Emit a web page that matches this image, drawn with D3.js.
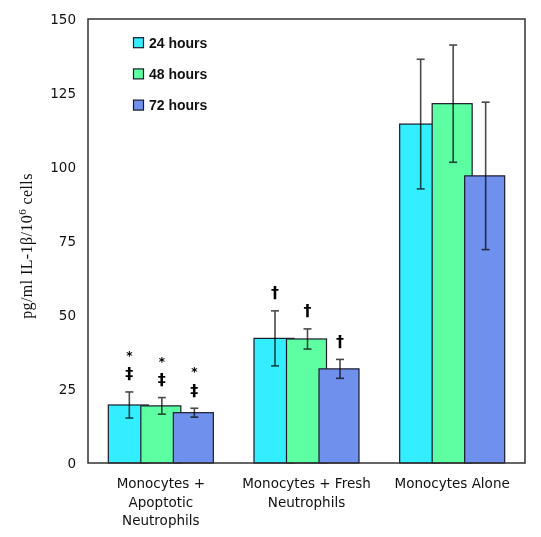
<!DOCTYPE html>
<html>
<head>
<meta charset="utf-8">
<script src="https://cdn.jsdelivr.net/npm/d3@7"></script>
<style>
  html, body { margin: 0; padding: 0; background: #fff; }
  svg { display: block; }
</style>
</head>
<body>
<svg id="chart" width="541" height="537"></svg>
<script>
// ---- data ----
const categories = [
  ["Monocytes +", "Apoptotic", "Neutrophils"],
  ["Monocytes + Fresh", "Neutrophils"],
  ["Monocytes Alone"]
];
const seriesNames = ["24 hours", "48 hours", "72 hours"];
const seriesColors = ["#33EEFF", "#5EFFA3", "#7090EE"];
const values24 = [19.6, 42.1, 114.5];
const values48 = [19.3, 41.9, 121.4];
const values72 = [17.0, 31.8, 97.0];
const err24 = [4.4, 9.3, 21.9];
const err48 = [2.8, 3.4, 19.8];
const err72 = [1.5, 3.2, 24.9];
const marks24 = [["*", "‡"], ["†"], []];
const marks48 = [["*", "‡"], ["†"], []];
const marks72 = [["*", "‡"], ["†"], []];
const yTicks = [0, 25, 50, 75, 100, 125, 150];

const seriesValues = [values24, values48, values72];
const seriesErr = [err24, err48, err72];
const seriesMarks = [marks24, marks48, marks72];

// ---- layout ----
const svg = d3.select("#chart");
const pLeft = 88, pRight = 525, pTop = 19, pBottom = 463;

const x0 = d3.scaleBand().domain(d3.range(categories.length)).range([pLeft, pRight]).paddingInner(0).paddingOuter(0);
const barW = 40;
const x1 = d3.scalePoint().domain(seriesNames).range([0, 65]);
const groupOffset = (x0.bandwidth() - (65 + barW)) / 2;
const y = d3.scaleLinear().domain([0, 150]).range([pBottom, pTop]);

const rows = [];
seriesNames.forEach((s, si) => {
  categories.forEach((c, ci) => {
    rows.push({ s, si, ci, v: seriesValues[si][ci], e: seriesErr[si][ci], m: seriesMarks[si][ci] });
  });
});

const bx = d => x0(d.ci) + groupOffset + x1(d.s);

const order = [];
categories.forEach((c, ci) => seriesNames.forEach((s, si) => order.push(rows.find(r => r.ci === ci && r.si === si))));

const g = svg.append("g");
order.forEach(d => {
  g.append("rect")
    .attr("x", bx(d)).attr("y", y(d.v))
    .attr("width", barW).attr("height", y(0) - y(d.v))
    .attr("fill", seriesColors[d.si])
    .attr("stroke", "#1a1a2a").attr("stroke-width", 1.2);
});

// error bars
const eg = svg.append("g").style("mix-blend-mode", "multiply");
rows.forEach(d => {
  const cx = bx(d) + barW / 2 + 1;
  const col = "#4a4a4a";
  eg.append("line").attr("x1", cx).attr("x2", cx).attr("y1", y(d.v + d.e)).attr("y2", y(d.v - d.e))
    .attr("stroke", col).attr("stroke-width", 1.6);
  [d.v + d.e, d.v - d.e].forEach(t => {
    eg.append("line").attr("x1", cx - 4).attr("x2", cx + 4).attr("y1", y(t)).attr("y2", y(t))
      .attr("stroke", col).attr("stroke-width", 1.6);
  });
});

// significance marks (stacked upward from the error bar top)
rows.forEach(d => {
  const cx = bx(d) + barW / 2 + 1;
  const base = y(d.v + d.e);
  const ms = d.m.slice().reverse();
  ms.forEach((m, i) => {
    const isStar = m === "*";
    svg.append("text")
      .attr("x", cx)
      .attr("y", isStar ? base - 36 : base - 18)
      .attr("text-anchor", "middle")
      .attr("dominant-baseline", "central")
      .attr("font-family", "DejaVu Sans")
      .attr("font-weight", "bold")
      .attr("font-size", isStar ? 12 : 16)
      .attr("fill", "#000")
      .text(m);
  });
});

// frame
svg.append("rect").attr("x", pLeft).attr("y", pTop).attr("width", pRight - pLeft).attr("height", pBottom - pTop)
  .attr("fill", "none").attr("stroke", "#333").attr("stroke-width", 1.5);

// y axis labels
const yAxis = d3.axisLeft(y).tickValues(yTicks).tickSize(0).tickPadding(12);
const ya = svg.append("g").attr("transform", `translate(${pLeft},0)`).call(yAxis);
ya.select(".domain").remove();
ya.selectAll("text").attr("font-family", "DejaVu Sans").attr("font-size", 13.5).attr("fill", "#111");

// x category labels
categories.forEach((lines, ci) => {
  const cx = x0(ci) + x0.bandwidth() / 2;
  const t = svg.append("text")
    .attr("x", cx)
    .attr("y", 488)
    .attr("text-anchor", "middle")
    .attr("font-family", "DejaVu Sans")
    .attr("font-size", 13.5)
    .attr("fill", "#111");
  lines.forEach((ln, i) => {
    t.append("tspan").attr("x", cx).attr("dy", i === 0 ? 0 : 18.5).text(ln);
  });
});

// y axis title
const yt = svg.append("text")
  .attr("transform", `translate(32,246) rotate(-90)`)
  .attr("text-anchor", "middle")
  .attr("font-family", "Liberation Serif")
  .attr("font-size", 16)
  .attr("letter-spacing", 0.4)
  .attr("fill", "#111");
yt.append("tspan").text("pg/ml IL-1β/10");
yt.append("tspan").attr("baseline-shift", "super").attr("font-size", 11).text("6");
yt.append("tspan").text(" cells");

// legend
const lg = svg.append("g");
seriesNames.forEach((s, i) => {
  const cy = 42.7 + i * 31.2;
  lg.append("rect").attr("x", 133.5).attr("y", cy - 5).attr("width", 10).attr("height", 10)
    .attr("fill", seriesColors[i]).attr("stroke", "#1a1a2a").attr("stroke-width", 1.2);
  lg.append("text").attr("x", 149).attr("y", cy).attr("dy", "0.36em")
    .attr("font-family", "Liberation Sans").attr("font-weight", "bold").attr("font-size", 14)
    .attr("fill", "#111").text(s);
});
</script>
</body>
</html>
